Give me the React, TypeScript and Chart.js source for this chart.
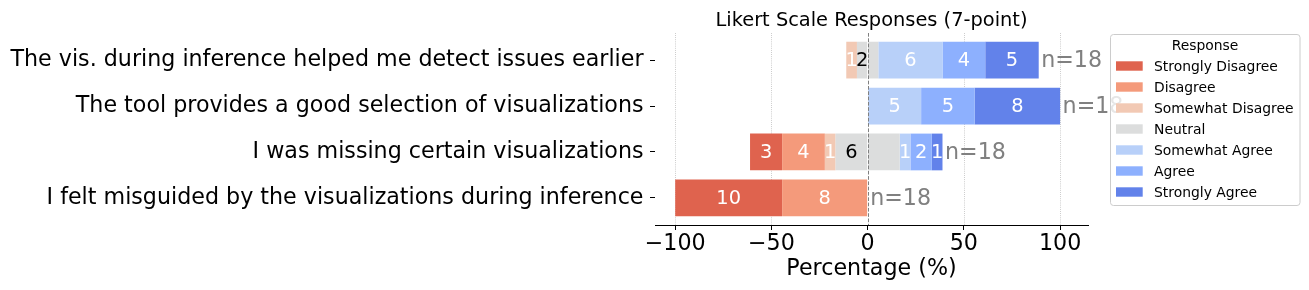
import React, { useEffect, useRef } from "react";
import { Chart, registerables } from "chart.js";

Chart.register(...registerables);

const CATEGORIES = [
  "The vis. during inference helped me detect issues earlier",
  "The tool provides a good selection of visualizations",
  "I was missing certain visualizations",
  "I felt misguided by the visualizations during inference",
];
const RESPONSES = [
  "Strongly Disagree",
  "Disagree",
  "Somewhat Disagree",
  "Neutral",
  "Somewhat Agree",
  "Agree",
  "Strongly Agree",
];
const COLORS = ["#df634e", "#f49a7b", "#f2c9b4", "#dcdddd", "#b8d0f9", "#8db0fe", "#6282ea"];

const STRONGLY_DISAGREE = [0, 0, 3, 10];
const DISAGREE = [0, 0, 4, 8];
const SOMEWHAT_DISAGREE = [1, 0, 1, 0];
const NEUTRAL = [2, 0, 6, 0];
const SOMEWHAT_AGREE = [6, 5, 1, 0];
const AGREE = [4, 5, 2, 0];
const STRONGLY_AGREE = [5, 8, 1, 0];

const X_TICKS = [-100, -50, 0, 50, 100];
const TITLE = "Likert Scale Responses (7-point)";
const X_LABEL = "Percentage (%)";
const LEGEND_TITLE = "Response";

const FONT = "'DejaVu Sans', sans-serif";

const totals = CATEGORIES.map(
  (_, i) =>
    STRONGLY_DISAGREE[i] + DISAGREE[i] + SOMEWHAT_DISAGREE[i] + NEUTRAL[i] +
    SOMEWHAT_AGREE[i] + AGREE[i] + STRONGLY_AGREE[i]
);
const pct = (arr: number[], sign: number, half = false) =>
  arr.map((c, i) => ({ x: (sign * (half ? c / 2 : c) * 100) / totals[i], y: i }));

// dataset order: left side stacks outward from 0, right side stacks outward from 0
const DATASETS = [
  { key: "neutralL", label: RESPONSES[3], counts: NEUTRAL, color: COLORS[3], data: pct(NEUTRAL, -1, true), text: "#000000" },
  { key: "sod", label: RESPONSES[2], counts: SOMEWHAT_DISAGREE, color: COLORS[2], data: pct(SOMEWHAT_DISAGREE, -1), text: "#ffffff" },
  { key: "d", label: RESPONSES[1], counts: DISAGREE, color: COLORS[1], data: pct(DISAGREE, -1), text: "#ffffff" },
  { key: "sd", label: RESPONSES[0], counts: STRONGLY_DISAGREE, color: COLORS[0], data: pct(STRONGLY_DISAGREE, -1), text: "#ffffff" },
  { key: "neutralR", label: RESPONSES[3], counts: NEUTRAL, color: COLORS[3], data: pct(NEUTRAL, 1, true), text: null },
  { key: "soa", label: RESPONSES[4], counts: SOMEWHAT_AGREE, color: COLORS[4], data: pct(SOMEWHAT_AGREE, 1), text: "#ffffff" },
  { key: "a", label: RESPONSES[5], counts: AGREE, color: COLORS[5], data: pct(AGREE, 1), text: "#ffffff" },
  { key: "sa", label: RESPONSES[6], counts: STRONGLY_AGREE, color: COLORS[6], data: pct(STRONGLY_AGREE, 1), text: "#ffffff" },
];

const decorPlugin = {
  id: "decor",
  beforeDatasetsDraw(chart: any) {
    const { ctx, chartArea } = chart;
    const xs = chart.scales.x;
    ctx.save();
    ctx.strokeStyle = "#b0b0b0";
    ctx.lineWidth = 0.8;
    ctx.setLineDash([0.8, 1.32]);
    X_TICKS.forEach((v) => {
      if (v === 0) return;
      const px = Math.round(xs.getPixelForValue(v)) + 0.5;
      ctx.beginPath();
      ctx.moveTo(px, chartArea.top);
      ctx.lineTo(px, chartArea.bottom);
      ctx.stroke();
    });
    ctx.restore();
  },
  afterDatasetsDraw(chart: any) {
    const { ctx, chartArea } = chart;
    const xs = chart.scales.x;
    const ys = chart.scales.y;
    ctx.save();
    // zero line
    const zx = Math.round(xs.getPixelForValue(0)) + 0.5;
    ctx.strokeStyle = "#808080";
    ctx.lineWidth = 1;
    ctx.setLineDash([3.7, 1.6]);
    ctx.beginPath();
    ctx.moveTo(zx, chartArea.top);
    ctx.lineTo(zx, chartArea.bottom);
    ctx.stroke();
    ctx.setLineDash([]);

    // in-bar counts
    ctx.font = `19.4px ${FONT}`;
    ctx.textAlign = "center";
    ctx.textBaseline = "middle";
    DATASETS.forEach((ds, di) => {
      if (!ds.text) return;
      const meta = chart.getDatasetMeta(di);
      meta.data.forEach((bar: any, i: number) => {
        const c = ds.counts[i];
        if (!c) return;
        const { x, base, y } = bar.getProps(["x", "base", "y"], true);
        ctx.fillStyle = ds.text;
        ctx.fillText(String(c), (x + base) / 2, y + 1);
      });
    });

    // n= labels
    ctx.font = `22.2px ${FONT}`;
    ctx.textAlign = "left";
    ctx.fillStyle = "#808080";
    CATEGORIES.forEach((_, i) => {
      let pos = 0;
      for (let d = 4; d < DATASETS.length; d++) pos += DATASETS[d].data[i].x;
      const px = xs.getPixelForValue(pos) + 2.5;
      ctx.fillText(`n=${totals[i]}`, px, ys.getPixelForValue(i) + 1);
    });
    ctx.restore();
  },
  afterDraw(chart: any) {
    const { ctx, chartArea } = chart;
    ctx.save();
    const cx = (chartArea.left + chartArea.right) / 2;
    // title
    ctx.fillStyle = "#000000";
    ctx.font = `19.4px ${FONT}`;
    ctx.textAlign = "center";
    ctx.textBaseline = "alphabetic";
    ctx.fillText(TITLE, cx, 25.5);
    // x label
    ctx.font = `22.2px ${FONT}`;
    ctx.fillText(X_LABEL, cx, 275);

    // legend
    const lx = 1110.5, ly = 34.5, lw = 189.5, lh = 171, r = 3;
    ctx.beginPath();
    ctx.moveTo(lx + r, ly);
    ctx.lineTo(lx + lw - r, ly);
    ctx.quadraticCurveTo(lx + lw, ly, lx + lw, ly + r);
    ctx.lineTo(lx + lw, ly + lh - r);
    ctx.quadraticCurveTo(lx + lw, ly + lh, lx + lw - r, ly + lh);
    ctx.lineTo(lx + r, ly + lh);
    ctx.quadraticCurveTo(lx, ly + lh, lx, ly + lh - r);
    ctx.lineTo(lx, ly + r);
    ctx.quadraticCurveTo(lx, ly, lx + r, ly);
    ctx.closePath();
    ctx.fillStyle = "rgba(255,255,255,0.8)";
    ctx.fill();
    ctx.strokeStyle = "#cccccc";
    ctx.lineWidth = 1;
    ctx.stroke();

    ctx.font = `13.9px ${FONT}`;
    ctx.fillStyle = "#000000";
    ctx.textAlign = "center";
    ctx.fillText(LEGEND_TITLE, 1205, 50.3);
    ctx.textAlign = "left";
    RESPONSES.forEach((name, k) => {
      const top = 61.3 + k * 21;
      ctx.fillStyle = COLORS[k];
      ctx.fillRect(1116, top, 26.7, 9.4);
      ctx.fillStyle = "#000000";
      ctx.fillText(name, 1154, top + 10);
    });
    ctx.restore();
  },
};

export default function App() {
  const ref = useRef<HTMLCanvasElement | null>(null);
  useEffect(() => {
    if (!ref.current) return;
    Chart.defaults.font.family = FONT;
    const chart = new Chart(ref.current, {
      type: "bar",
      data: {
        datasets: DATASETS.map((d) => ({
          label: d.label,
          data: d.data as any,
          backgroundColor: d.color,
          borderWidth: 0,
          stack: "all",
          barPercentage: 0.8,
          categoryPercentage: 1,
        })),
      },
      options: {
        indexAxis: "y",
        responsive: false,
        animation: false,
        layout: { padding: { top: 33, right: 221, left: 0, bottom: 0 } },
        plugins: {
          legend: { display: false },
          tooltip: { enabled: false },
          title: { display: false },
        },
        scales: {
          x: {
            type: "linear",
            position: "bottom",
            min: -110.5,
            max: 114.5,
            stacked: true,
            offset: false,
            afterBuildTicks: (axis: any) => {
              axis.ticks = X_TICKS.map((v) => ({ value: v }));
            },
            afterFit: (axis: any) => {
              axis.height = 65;
            },
            ticks: {
              color: "#000000",
              font: { size: 22.2, family: FONT },
              padding: 1,
              maxRotation: 0,
              minRotation: 0,
              autoSkip: false,
              callback: (v: any) => (v < 0 ? "\u2212" + Math.abs(v) : String(v)),
            },
            grid: {
              display: true,
              offset: false,
              drawOnChartArea: false,
              drawTicks: true,
              tickLength: 5,
              color: "#000000",
              lineWidth: 1,
            },
            border: { display: true, color: "#000000", width: 1 },
          },
          y: {
            type: "linear",
            position: "left",
            reverse: true,
            min: -0.59,
            max: 3.59,
            stacked: true,
            offset: false,
            afterBuildTicks: (axis: any) => {
              axis.ticks = CATEGORIES.map((_, i) => ({ value: i }));
            },
            afterFit: (axis: any) => {
              axis.width = 655;
            },
            ticks: {
              color: "#000000",
              font: { size: 22.2, family: FONT },
              padding: 6.5,
              autoSkip: false,
              callback: (v: any) => CATEGORIES[v] ?? "",
            },
            grid: {
              display: true,
              offset: false,
              drawOnChartArea: false,
              drawTicks: true,
              tickLength: 5,
              color: "#000000",
              lineWidth: 1,
            },
            border: { display: false },
          },
        },
      },
      plugins: [decorPlugin],
    });
    return () => chart.destroy();
  }, []);
  return (
    <div style={{ position: "absolute", left: 0, top: 0, width: 1309, height: 290, background: "#ffffff" }}>
      <canvas ref={ref} width={1309} height={290} style={{ display: "block", width: 1309, height: 290 }} />
    </div>
  );
}
